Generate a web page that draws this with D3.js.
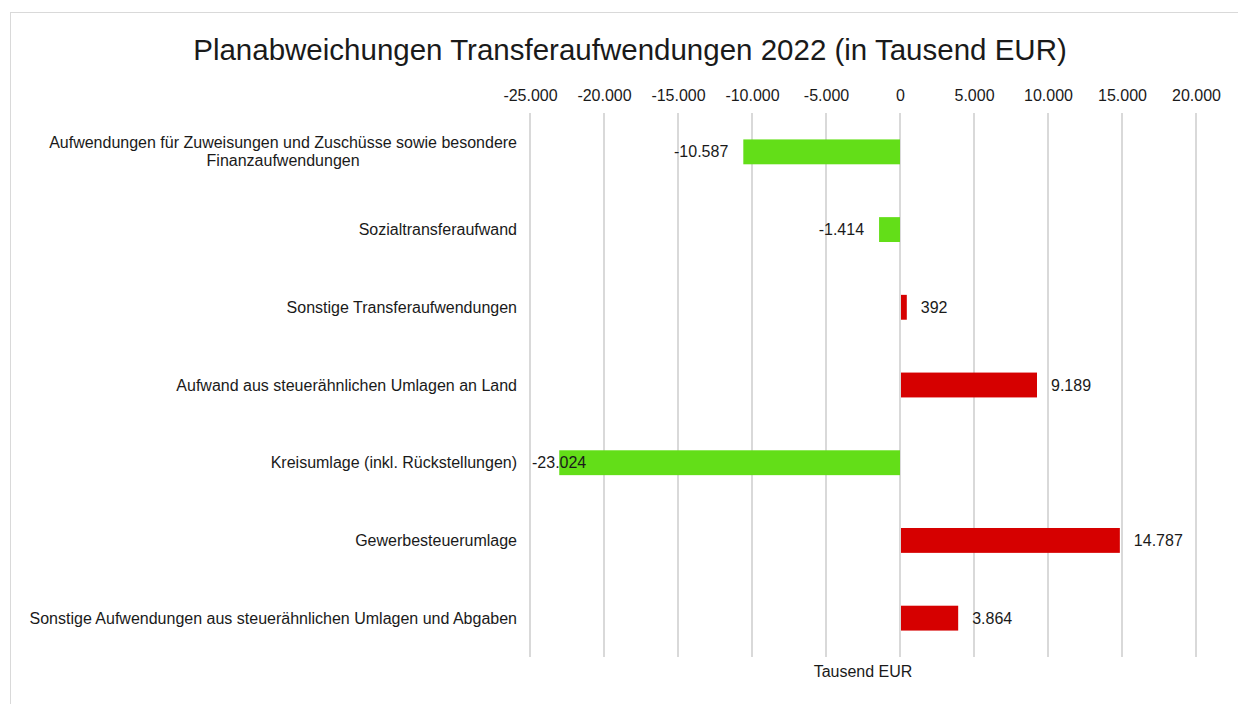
<!DOCTYPE html>
<html>
<head>
<meta charset="utf-8">
<script src="https://cdn.jsdelivr.net/npm/d3@7.9.0/dist/d3.min.js"></script>
<style>
  body { margin: 0; background: #fff; }
  svg text { font-family: "Liberation Sans", Arial, sans-serif; fill: #1a1a1a; }
</style>
</head>
<body>
<svg id="chart"></svg>
<script>
const categories = [
  "Aufwendungen für Zuweisungen und Zuschüsse sowie besondere|Finanzaufwendungen",
  "Sozialtransferaufwand",
  "Sonstige Transferaufwendungen",
  "Aufwand aus steuerähnlichen Umlagen an Land",
  "Kreisumlage (inkl. Rückstellungen)",
  "Gewerbesteuerumlage",
  "Sonstige Aufwendungen aus steuerähnlichen Umlagen und Abgaben"
];
const values = [-10587, -1414, 392, 9189, -23024, 14787, 3864];
const tickValues = [-25000, -20000, -15000, -10000, -5000, 0, 5000, 10000, 15000, 20000];

const svgWidth = 1238;
const svgHeight = 704;
const margin = { top: 113, right: 42, bottom: 47, left: 530 };
const width = svgWidth - margin.left - margin.right;
const height = svgHeight - margin.top - margin.bottom;

// German number format with hyphen minus
const fmt = v => d3.format(",")(v).replace(/,/g, ".").replace("\u2212", "-");

const svg = d3.select("#chart")
  .attr("width", svgWidth)
  .attr("height", svgHeight);

svg.append("rect")
  .attr("x", 10.5).attr("y", 12.5)
  .attr("width", 1240).attr("height", 700)
  .attr("fill", "none")
  .attr("stroke", "#d9d9d9");

const x = d3.scaleLinear().domain([-25000, 20000]).range([0, width]);
const y = d3.scaleBand().domain(categories).range([0, height]).paddingInner(0.68).paddingOuter(0.34);

const g = svg.append("g").attr("transform", `translate(${margin.left},${margin.top})`);

// gridlines
g.selectAll("line.grid")
  .data(tickValues)
  .enter()
  .append("line")
  .attr("x1", d => x(d)).attr("x2", d => x(d))
  .attr("y1", 0).attr("y2", height)
  .attr("stroke", "#d9d9d9")
  .attr("stroke-width", 2);

// tick labels on top
const xAxis = d3.axisTop(x).tickValues(tickValues).tickSize(0).tickPadding(12).tickFormat(fmt);
const axisG = g.append("g").call(xAxis);
axisG.select(".domain").remove();
axisG.selectAll("text").style("font-size", "16px").attr("fill", "#1a1a1a");

// bars
g.selectAll("rect.bar")
  .data(values)
  .enter()
  .append("rect")
  .attr("x", d => x(Math.min(0, d)) + (d > 0 ? 1 : 0))
  .attr("y", (d, i) => y(categories[i]))
  .attr("width", d => Math.abs(x(d) - x(0)))
  .attr("height", y.bandwidth())
  .attr("fill", d => d < 0 ? "#63de18" : "#d60000");

// value labels
g.selectAll("text.val")
  .data(values)
  .enter()
  .append("text")
  .attr("x", d => {
    if (d < 0) {
      return x(d) - 15 > 60 ? x(d) - 15 : 2;
    }
    return x(d) + 15;
  })
  .attr("y", (d, i) => y(categories[i]) + y.bandwidth() / 2)
  .attr("dy", "0.35em")
  .attr("text-anchor", d => (d < 0 && x(d) - 15 > 60) ? "end" : "start")
  .style("font-size", "16px")
  .text(fmt);

// category labels
const catG = svg.append("g");
categories.forEach((c, i) => {
  const lines = c.split("|");
  const cy = margin.top + y(c) + y.bandwidth() / 2;
  const t = catG.append("text")
    .attr("text-anchor", "middle")
    .style("font-size", "16px");
  lines.forEach((ln, j) => {
    t.append("tspan")
      .attr("x", 517)
      .attr("y", cy + (j - (lines.length - 1) / 2) * 18)
      .attr("dy", "0.35em")
      .text(ln);
  });
  if (lines.length === 1) {
    t.attr("text-anchor", "end");
  } else {
    // centre the block so the longest line ends at 517
    const widths = [];
    t.selectAll("tspan").each(function () { widths.push(this.getComputedTextLength()); });
    const maxW = d3.max(widths);
    t.selectAll("tspan").attr("x", 517 - maxW / 2);
  }
});

// title
svg.append("text")
  .attr("x", 630)
  .attr("y", 60)
  .attr("text-anchor", "middle")
  .style("font-size", "29.5px")
  .text("Planabweichungen Transferaufwendungen 2022 (in Tausend EUR)");

// axis title
svg.append("text")
  .attr("x", margin.left + width / 2)
  .attr("y", 677)
  .attr("text-anchor", "middle")
  .style("font-size", "16px")
  .text("Tausend EUR");
</script>
</body>
</html>
